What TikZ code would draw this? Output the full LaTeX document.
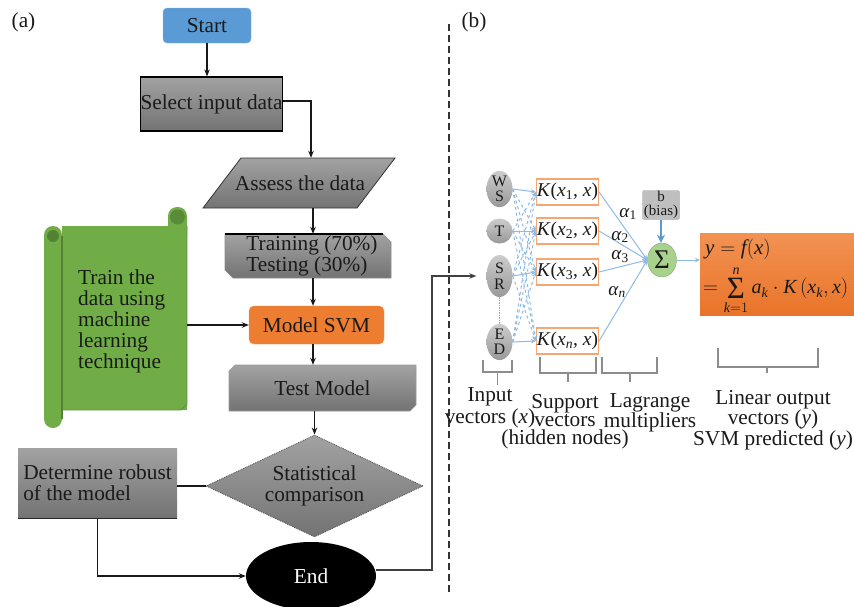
\documentclass[tikz,border=0pt]{standalone}
\usepackage{amsmath}
\usepackage{fontspec}
\setmainfont{Liberation Serif}
\usetikzlibrary{shapes.geometric,arrows.meta}
\definecolor{startblue}{HTML}{5B9BD5}
\definecolor{svmorange}{HTML}{ED7D31}
\definecolor{scrollgreen}{HTML}{70AD47}
\definecolor{scrolldark}{HTML}{548235}
\definecolor{lineblue}{HTML}{8EBBE6}
\definecolor{biasblue}{HTML}{5B9BD5}
\definecolor{sigmagreen}{HTML}{A9D18E}
\definecolor{kborder}{HTML}{F4A674}
\definecolor{dotorange}{HTML}{F08A50}
\definecolor{txt}{HTML}{1A1A1A}
\definecolor{gtop}{HTML}{A2A2A2}
\definecolor{gbot}{HTML}{737373}
\definecolor{otop}{HTML}{F29252}
\definecolor{obot}{HTML}{E9742A}
\newcommand\fA{\fontsize{21.3}{21}\selectfont}
\newcommand\bigSig{\mathop{\vcenter{\hbox{\fontsize{31}{31}\selectfont Σ}}}}
\tikzset{
  arr/.style={-{Stealth[length=7pt,width=5.5pt]}, line width=1.3pt, black!90},
  graybox/.style={top color=gtop, bottom color=gbot, text=txt, inner sep=0pt, font=\fA},
  plainlbl/.style={font=\fA, text=txt, inner sep=0pt},
  startbox/.style={rectangle, rounded corners=4pt, fill=startblue, draw=startblue!75!white, minimum width=88pt, minimum height=35pt, inner sep=0pt, font=\fA, text=txt},
  svmbox/.style={rectangle, rounded corners=5pt, fill=svmorange, draw=svmorange!85!white, minimum width=135pt, minimum height=38pt, inner sep=0pt, font=\fA, text=txt},
  endnode/.style={ellipse, fill=black, minimum width=130pt, minimum height=68pt, inner sep=0pt, text=white, font=\fA},
  bline/.style={draw=lineblue, line width=1pt, -{Stealth[length=5pt,width=4.5pt]}},
  inball/.style={ellipse, inner sep=0pt, top color=black!20, bottom color=black!40, align=center, font=\fontsize{16}{15}\selectfont, text=txt, minimum width=26pt},
  kbox/.style={rectangle, draw=kborder, line width=1.2pt, fill=white, minimum width=62pt, minimum height=26pt, inner sep=0pt, font=\fontsize{19.5}{20}\selectfont, text=txt},
  brk/.style={draw=black!45, line width=1.3pt},
  lbl/.style={align=center, font=\fA, text=txt, inner sep=0pt},
  alab/.style={font=\fontsize{19}{19}\selectfont, text=txt, inner sep=0pt},
}
\begin{document}
\begin{tikzpicture}[x=1pt,y=-1pt]
\useasboundingbox (0,0) rectangle (854,606);
\fill[white] (0,0) rectangle (854,606);

% panel labels and separator
\node[plainlbl] (la) at (23.5,22) {(a)};
\node[plainlbl] (lb) at (474,22) {(b)};
\draw[dash pattern=on 7pt off 4pt, line width=1.5pt, black!80] (449,24) -- (449,593);

% helper columns
\coordinate (cA) at (311,0);
\coordinate (cB) at (313,0);
\coordinate (cE) at (432,0);

% ---------- flowchart (a) ----------
\node[startbox] (start) at (207,25.5) {Start};
\node[graybox, draw=black, line width=1.2pt, minimum width=141pt, minimum height=54pt] (sel) at (211.5,104) {Select input data};

\shade[top color=gtop, bottom color=gbot, draw=black!80, line width=0.8pt] (241,158) -- (395,158) -- (357,208) -- (203,208) -- cycle;
\node[plainlbl, minimum width=154pt, minimum height=50pt] (assess) at (300,183) {Assess the data};

\shade[top color=gtop, bottom color=gbot, draw=black!45, line width=0.6pt] (225,234) -- (383,234) -- (391,242) -- (391,278) -- (233,278) -- (225,270) -- cycle;
\draw[line width=1.4pt, black] (225,234) -- (383,234);
\node[plainlbl, align=left, minimum width=166pt, minimum height=44pt] (train) at (312,256) {Training (70\%)\\Testing (30\%)};

\node[svmbox] (svm) at (316.5,325) {Model SVM};

\shade[top color=gtop, bottom color=gbot, draw=black!40, line width=0.6pt] (235,365) -- (416,365) -- (416,405) -- (410,411) -- (229,411) -- (229,371) -- cycle;
\node[plainlbl, minimum width=187pt, minimum height=46pt] (test) at (322.5,388) {Test Model};

\node[graybox, diamond, aspect=2.1, minimum width=217pt, minimum height=102pt, draw=black!65, densely dotted, line width=0.9pt, align=center] (stat) at (314.5,486) {Statistical\\comparison};

\node[graybox, minimum width=159pt, minimum height=70pt, align=left] (robust) at (97.5,483) {Determine robust\\of the model};
\draw[line width=1.3pt, black!85] (robust.south west) -- (robust.south east);

\node[endnode] (end) at (311,576) {End};

% scroll
\fill[scrollgreen] (62,226) rectangle (187,410);
\fill[scrollgreen, rounded corners=9pt] (168,207) rectangle (187,245);
\fill[scrollgreen, rounded corners=9pt] (44,226) rectangle (62,428);
\draw[scrolldark!70!scrollgreen, line width=0.8pt] (187,226) -- (187,404) -- (181,410) -- (62,410);
\draw[scrolldark, line width=1.2pt] (62,236) -- (62,419);
\fill[scrolldark!80!scrollgreen] (177.5,217) circle (7.5pt);
\fill[scrolldark] (53,236) circle (6pt);
\node[inner sep=0pt, minimum width=125pt, minimum height=184pt] (scroll) at (124.5,318) {};
\node[plainlbl, align=left, anchor=west] (scrolltxt) at (78,321.5) {Train the\\data using\\machine\\learning\\technique};

% ---------- SVM network (b) ----------
\node[inball, minimum height=33pt] (ws) at (499.5,189) {W\\S};
\node[inball, minimum height=25pt] (t) at (499.5,231) {T};
\node[inball, minimum height=42pt, font=\fontsize{16}{16}\selectfont] (sr) at (499.5,276) {S\\R};
\node[inball, minimum height=36pt, font=\fontsize{16}{15}\selectfont] (ed) at (499.5,342) {E\\D};
\draw[color=dotorange, densely dotted, line width=1.5pt] (sr.south) -- (ed.north);

% connectors (a)
\draw[arr] (start.south) -- (start.south |- sel.north);
\draw[arr] ([yshift=3pt]sel.east) -| (cA |- assess.north);
\draw[arr] (cB |- assess.south) -- (cB |- train.north);
\draw[arr] (cB |- train.south) -- (cB |- svm.north);
\draw[arr] (cB |- svm.south) -- (cB |- test.north);
\draw[arr] (stat.north |- test.south) -- (stat.north);
\draw[line width=1.3pt, black!90] (stat.west) -- (stat.west -| robust.east);
\draw[arr] (robust.south) |- (end.west);
\draw[arr] (scroll.east |- svm.west) -- (svm.west);
\draw[arr, black!75, shorten >=10pt] ([yshift=6pt]end.east) -- ([yshift=6pt]end.east -| cE) -- (cE |- sr.west) -- (sr.west);

\node[kbox] (k1) at (567.5,192) {\textit{K}(\textit{x}\textsubscript{1}, \textit{x})};
\node[kbox] (k2) at (567.5,231) {\textit{K}(\textit{x}\textsubscript{2}, \textit{x})};
\node[kbox] (k3) at (567.5,272) {\textit{K}(\textit{x}\textsubscript{3}, \textit{x})};
\node[kbox] (kn) at (567.5,341) {\textit{K}(\textit{x}\textsubscript{\textit{n}}, \textit{x})};

\foreach \i/\j/\d in {ws/k1/solid, ws/k2/dashed, ws/k3/dashed, ws/kn/dashed,
                      t/k1/dashed, t/k2/solid, t/k3/dashed, t/kn/dashed,
                      sr/k1/dashed, sr/k2/dashed, sr/k3/solid, sr/kn/dashed,
                      ed/k1/dashed, ed/k2/dashed, ed/k3/dashed, ed/kn/solid}
  \draw[bline, \d] (\i.east) -- (\j.west);

\node[ellipse, fill=sigmagreen, draw=sigmagreen!80!black, minimum width=29pt, minimum height=34pt, inner sep=0pt, font=\fontsize{27}{27}\selectfont, text=txt] (sig) at (662,260) {Σ};
\node[rectangle, rounded corners=2pt, fill=black!25, draw=black!38, minimum width=37pt, minimum height=29pt, inner sep=0pt, align=center, font=\fontsize{15}{13.5}\selectfont, text=txt] (bias) at (661,205) {b\\(bias)};

\foreach \j in {k1,k2,k3,kn}
  \draw[bline] (\j.east) -- (sig.west);

\node[alab] (a1) at (628,214) {\textit{α}\textsubscript{1}};
\node[alab] (a2) at (620,237) {\textit{α}\textsubscript{2}};
\node[alab] (a3) at (620,257) {\textit{α}\textsubscript{3}};
\node[alab] (an) at (617,292) {\textit{α}\textsubscript{\textit{n}}};

\draw[biasblue, line width=2.5pt, -{Stealth[length=8pt,width=8pt]}] (bias.south) -- (bias.south |- sig.north);

\begin{scope}
\clip (0,0) rectangle (854,606);
\node[rectangle, top color=otop, bottom color=obot, minimum width=190pt, minimum height=82pt, inner sep=0pt, anchor=west] (out) at (700,274) {};
\node[anchor=west, inner sep=0pt, font=\fontsize{21}{21}\selectfont, text=txt] (eq1) at (705,249) {$\textit{y} = \textit{f}(\textit{x})$};
\node[anchor=west, inner sep=0pt, font=\fontsize{20}{20}\selectfont, text=txt] (eq2) at (703,290) {$=\bigSig\limits_{\textit{k}=1}^{\textit{n}}\textit{a}_{\textit{k}}\cdot \textit{K}\left(\textit{x}_{\textit{k}},\textit{x}\right)+\textit{b}$};
\end{scope}
\draw[bline] (sig.east) -- (sig.east -| out.west);

% brackets
\draw[brk] (483,360) -- (483,372) -- (512,372) -- (512,360);
\draw[brk] (497.5,372) -- (497.5,385);
\draw[brk] (540,357) -- (540,373) -- (596,373) -- (596,357);
\draw[brk] (568,373) -- (568,382);
\draw[brk] (602,357) -- (602,373) -- (657,373) -- (657,357);
\draw[brk] (630,373) -- (630,382);
\draw[brk] (718,348) -- (718,367) -- (818,367) -- (818,348);
\draw[brk] (767,367) -- (767,373);

\node[lbl, font=\fontsize{21.3}{22}\selectfont] (lin) at (490,408) {Input\\vectors (\textit{x})};
\node[lbl, font=\fontsize{21.3}{18}\selectfont] (lsv) at (565,422) {Support\\vectors\\(hidden nodes)};
\node[lbl, font=\fontsize{21.3}{18}\selectfont] (llm) at (650,413) {Lagrange\\multipliers};
\node[lbl, font=\fontsize{21.3}{19}\selectfont] (lout) at (773,420) {Linear output\\vectors (\textit{y})\\SVM predicted (\textit{y})};
\end{tikzpicture}
\end{document}
